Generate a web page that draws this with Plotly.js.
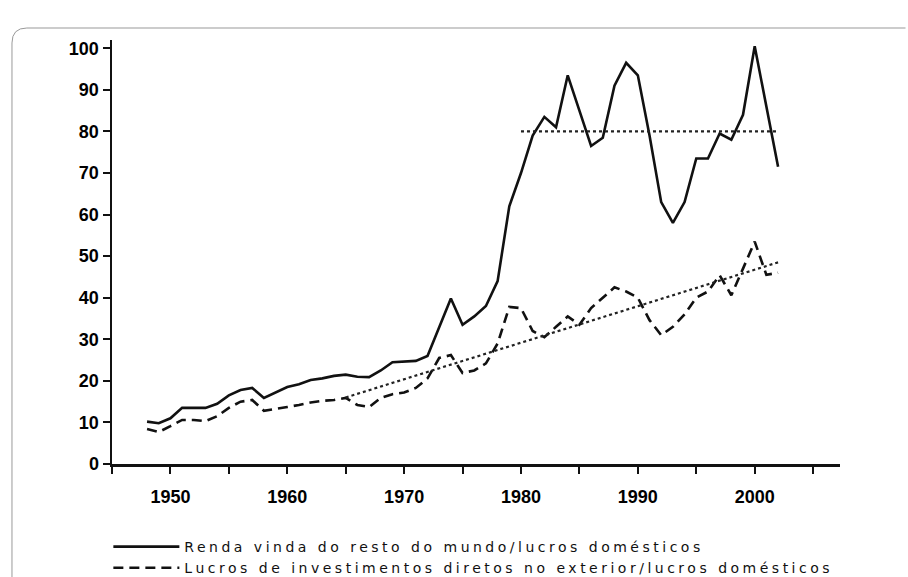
<!DOCTYPE html>
<html>
<head>
<meta charset="utf-8">
<script src="https://cdn.plot.ly/plotly-3.0.1.min.js"></script>
<style>
html,body{margin:0;padding:0;background:#fff;}
#chart{width:908px;height:577px;}
#chart .legendtext{letter-spacing:3.5px;}
#chart .legend, #chart .legend *{clip-path:none !important;}
</style>
</head>
<body>
<div id="chart"></div>
<script>
// ---- data ----
var years = [1948,1949,1950,1951,1952,1953,1954,1955,1956,1957,1958,1959,
             1960,1961,1962,1963,1964,1965,1966,1967,1968,1969,
             1970,1971,1972,1973,1974,1975,1976,1977,1978,1979,
             1980,1981,1982,1983,1984,1985,1986,1987,1988,1989,
             1990,1991,1992,1993,1994,1995,1996,1997,1998,1999,
             2000,2001,2002];
var rendaRestoMundo = [10.2,9.8,11,13.5,13.5,13.5,14.5,16.5,17.8,18.3,15.9,17.2,
                       18.5,19.2,20.2,20.6,21.2,21.5,21,20.9,22.5,24.5,
                       24.6,24.8,26,33,39.8,33.5,35.5,38,44,62,
                       70,79,83.5,81,93.5,85,76.5,78.5,91,96.5,
                       93.5,79,63,58,63,73.5,73.5,79.5,78,84,
                       100.5,86,71.5];
var lucrosInvestDiretos = [8.4,7.7,9.1,10.6,10.6,10.3,11.5,13.5,15,15.4,12.8,13.2,
                           13.7,14.2,14.8,15.2,15.4,15.9,14.2,13.7,15.9,16.8,
                           17.2,18.3,20.6,25.5,26.2,21.9,22.5,24.2,29,37.8,
                           37.5,32,30.5,33,35.5,33.5,37.5,40,42.5,41.5,
                           40,34.6,31,33,36,40,41.5,45.4,40.6,47,
                           53.5,45.5,46];
// dotted reference lines
var mediaAnos = [1980, 2002];
var mediaValores = [80, 80];
var tendenciaAnos = [1965, 2002];
var tendenciaValores = [16, 48.5];
// axis ticks
var xTickVals = [1945,1950,1955,1960,1965,1970,1975,1980,1985,1990,1995,2000,2005];
var xTickText = ['','1950','','1960','','1970','','1980','','1990','','2000',''];
var yTickVals = [0,10,20,30,40,50,60,70,80,90,100];
var nomeSerie1 = 'Renda vinda do resto do mundo/lucros domésticos';
var nomeSerie2 = 'Lucros de investimentos diretos no exterior/lucros domésticos';

var traces = [
  {x: years, y: rendaRestoMundo, type: 'scatter', mode: 'lines', name: nomeSerie1,
   line: {color: '#111', width: 2.6}},
  {x: years, y: lucrosInvestDiretos, type: 'scatter', mode: 'lines', name: nomeSerie2,
   line: {color: '#111', width: 2.6, dash: '10px,6px'}},
  {x: mediaAnos, y: mediaValores, type: 'scatter', mode: 'lines', showlegend: false,
   line: {color: '#222', width: 2.2, dash: 'dot'}},
  {x: tendenciaAnos, y: tendenciaValores, type: 'scatter', mode: 'lines', showlegend: false,
   line: {color: '#222', width: 2.2, dash: 'dot'}}
];

var tickFont = {family: 'Liberation Sans', size: 18, color: '#000', weight: 'bold'};

var layout = {
  width: 908, height: 577,
  margin: {l: 112, r: 68, t: 40, b: 113, autoexpand: false},
  paper_bgcolor: '#fff', plot_bgcolor: '#fff',
  showlegend: true,
  legend: {x: -0.005, y: -0.158, xanchor: 'left', yanchor: 'top',
           font: {family: 'DejaVu Sans', size: 14, color: '#111'},
           itemwidth: 66, tracegroupgap: 0, bgcolor: 'rgba(0,0,0,0)'},
  xaxis: {range: [1945, 2007.3], tickvals: xTickVals, ticktext: xTickText,
          showgrid: false, zeroline: false, showline: true, linecolor: '#111', linewidth: 2.5,
          ticks: 'outside', ticklen: 7, tickwidth: 2, tickcolor: '#111',
          ticklabelstandoff: 8, tickfont: tickFont},
  yaxis: {range: [0, 102], tickvals: yTickVals,
          showgrid: false, zeroline: false, showline: true, linecolor: '#111', linewidth: 2.5,
          ticks: 'outside', ticklen: 7, tickwidth: 2, tickcolor: '#111',
          tickfont: tickFont},
  shapes: [{type: 'path', xref: 'paper', yref: 'paper',
            path: 'M -0.1374,-0.35 L -0.1374,0.993 Q -0.1374,1.0283 -0.117,1.0283 L 1.09,1.0283',
            line: {color: '#999', width: 1}}]
};

Plotly.newPlot('chart', traces, layout, {staticPlot: true, displayModeBar: false});
</script>
</body>
</html>
